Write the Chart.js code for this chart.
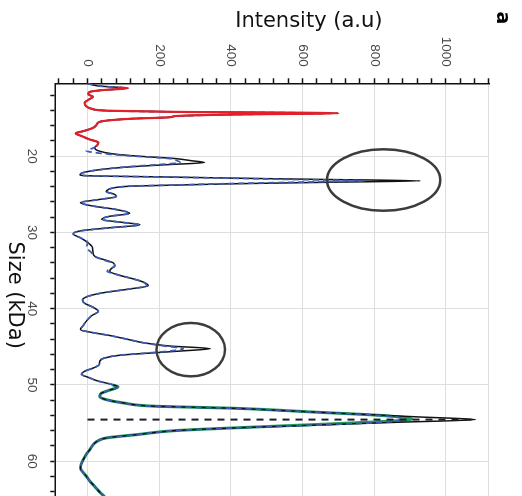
<!DOCTYPE html>
<html>
<head>
<meta charset="utf-8">
<script src="https://cdn.jsdelivr.net/npm/chart.js@4.4.1/dist/chart.umd.min.js"></script>
<style>
  html, body { margin: 0; padding: 0; background: #fff; }
  body { width: 522px; height: 496px; overflow: hidden; position: relative; }
  #wrap { position: absolute; left: 0; top: 0; width: 530px; height: 522px;
          transform-origin: 0 0; transform: translateX(522px) rotate(90deg); }
  canvas { display: block; }
</style>
</head>
<body>
<div id="wrap"><canvas id="c" width="530" height="522"></canvas></div>
<script>
// ---- data ----
const sizeKDa = [10.45,10.8,11.1,11.35,11.6,11.9,12.2,12.6,13.0,13.4,13.8,14.05,14.2,14.37,14.55,14.75,14.9,15.1,15.5,15.9,16.3,16.7,17.0,17.4,17.8,18.2,18.5,18.9,19.3,19.7,20.0,20.3,20.6,20.84,21.1,21.4,21.8,22.2,22.45,22.6,22.72,22.88,23.05,23.24,23.42,23.63,23.78,23.92,24.1,24.3,24.65,25.0,25.3,25.7,26.1,26.5,27.0,27.5,27.9,28.3,28.7,29.0,29.4,29.8,30.2,30.7,31.3,32.0,32.6,33.2,33.7,34.0,34.4,34.8,35.1,35.5,36.0,36.5,37.0,37.4,37.9,38.4,38.9,39.3,39.8,40.35,40.9,41.6,42.2,42.75,43.1,43.5,44.0,44.5,44.9,45.24,45.55,45.8,46.1,46.5,46.9,47.3,47.8,48.2,48.6,49.0,49.5,49.9,50.26,50.7,51.1,51.5,51.9,52.35,52.8,53.04,53.4,53.8,54.2,54.54,54.9,55.3,55.65,56.0,56.5,56.94,57.3,57.7,58.5,59.2,59.8,60.4,60.9,61.5,62.0,62.7,63.3,64.0,64.5,65.2,66.0];
const blackInt = [0,30,110,40,5,2,15,3,-8,-5,12,60,250,700,400,245,230,120,34,25,15,-10,-33,-15,5,30,28,20,30,70,140,240,290,326,230,120,30,-15,-21,20,200,400,648,928,683,397,260,130,80,62,52,75,80,30,-20,10,80,118,60,39,100,146,60,-20,-40,-20,0,14,15,22,55,72,76,65,62,80,120,155,169,120,45,0,-14,-8,15,30,12,-3,-12,-20,10,60,110,160,230,342,260,180,90,45,34,33,15,-8,-17,2,30,65,85,60,38,34,50,99,193,398,562,745,927,1082,860,614,398,240,140,53,30,18,6,-5,-12,-18,-20,-12,-3,8,20,33,44,58,72];
const blueInt  = [0,30,105,40,5,2,15,3,-8,-5,12,60,250,680,400,260,225,120,34,25,15,-10,-33,-15,5,28,25,18,-3,50,130,225,250,258,200,110,30,-15,-21,20,190,380,560,770,580,370,250,130,80,62,52,75,80,30,-20,10,80,118,60,39,100,146,60,-20,-40,-20,0,-3,10,22,50,70,76,60,55,80,120,155,165,120,45,0,-14,-8,15,30,12,-3,-12,-20,10,60,110,160,215,267,230,170,90,45,34,33,15,-8,-17,2,30,65,85,60,38,34,50,99,193,398,560,740,860,880,820,614,398,240,140,53,30,18,6,-5,-12,-18,-20,-12,-3,8,20,33,44,58,72];
const redSize  = [11.0,11.1,11.35,11.6,11.9,12.2,12.6,13.0,13.4,13.8,14.05,14.2,14.37,14.55,14.75,14.9,15.1,15.5,15.9,16.3,16.7,17.0,17.4,17.8,18.2,18.5,18.7];
const redInt   = [90,113,40,5,2,15,3,-8,-5,12,60,250,700,400,245,230,120,34,25,15,-10,-33,-15,5,30,28,24];
const greenSize = [50.0,50.26,50.7,51.1,51.5,51.9,52.35,52.8,53.04,53.6,54.0,54.5,54.85,55.2,55.65,56.0,56.5,56.94,57.3,57.7,58.5,59.2,59.8,60.4,60.9,61.5,62.0,62.7,63.3,64.0,64.5,65.2,66.0];
const greenInt  = [70,85,60,38,34,50,99,193,398,650,820,905,800,630,398,240,140,53,30,18,6,-5,-12,-18,-20,-12,-3,8,20,33,44,58,72];
const markerSize = [54.54, 54.54];
const markerInt  = [0, 1082];
// circled peaks: centre (size, intensity) and half-axes in data units
const ringSize    = [23.13, 45.37];
const ringInt     = [826, 288];
const ringRadSize = [4.03, 3.5];
const ringRadInt  = [158, 95.5];
// axis ticks
const sizeLabels = [20, 30, 40, 50, 60];
const intensityLabels = [0, 200, 400, 600, 800, 1000];

const pts = (xs, ys) => xs.map((x, i) => ({x: x, y: ys[i]}));
const T = 'rgba(0,0,0,0)';
const near = (a, b) => Math.abs(a - b) < 1e-6;

const ringPlugin = {
  id: 'rings',
  afterDatasetsDraw(chart) {
    const {ctx, scales} = chart;
    const xs = scales.x, ys = scales.y;
    ctx.save();
    ctx.strokeStyle = '#3c3c3c';
    ctx.lineWidth = 2.5;
    ringSize.forEach((s, i) => {
      const cx = xs.getPixelForValue(s), cy = ys.getPixelForValue(ringInt[i]);
      const rx = Math.abs(xs.getPixelForValue(s + ringRadSize[i]) - cx);
      const ry = Math.abs(ys.getPixelForValue(ringInt[i] + ringRadInt[i]) - cy);
      ctx.beginPath();
      ctx.ellipse(cx, cy, rx, ry, 0, 0, Math.PI * 2);
      ctx.stroke();
    });
    ctx.restore();
  },
  afterDraw(chart) {
    const ctx = chart.ctx;
    ctx.save();
    ctx.fillStyle = '#000';
    ctx.font = 'bold 19px "DejaVu Sans"';
    ctx.textAlign = 'center';
    ctx.textBaseline = 'middle';
    ctx.fillText('a', 18, 20);
    ctx.restore();
  }
};

new Chart(document.getElementById('c'), {
  type: 'line',
  data: {
    datasets: [
      { data: pts(markerSize, markerInt), borderColor: '#1c1c2c', borderWidth: 2, borderDash: [7, 6], pointRadius: 0, tension: 0 },
      { data: pts(redSize, redInt), borderColor: '#e3202a', borderWidth: 2.2, pointRadius: 0, cubicInterpolationMode: 'monotone' },
      { data: pts(sizeKDa, blueInt), borderColor: '#3f5cb5', borderWidth: 1.8, borderDash: [6, 4], pointRadius: 0, cubicInterpolationMode: 'monotone' },
      { data: pts(sizeKDa, blackInt), borderColor: '#111111', borderWidth: 1.5, pointRadius: 0, cubicInterpolationMode: 'monotone' },
      { data: pts(greenSize, greenInt), borderColor: '#1f9a62', borderWidth: 3, pointRadius: 0, cubicInterpolationMode: 'monotone' }
    ]
  },
  options: {
    responsive: false,
    animation: false,
    devicePixelRatio: 1,
    layout: { padding: { left: 0, top: 33, right: 23, bottom: 0 } },
    plugins: { legend: { display: false }, tooltip: { enabled: false } },
    scales: {
      x: {
        type: 'linear', position: 'bottom', min: 10.45, max: 66,
        afterFit: s => { s.height = 55.3; },
        ticks: {
          stepSize: 2, includeBounds: false, autoSkip: false, maxRotation: 0, minRotation: 0,
          padding: 10, color: '#4a4a4a',
          font: { family: '"Liberation Sans", Arial, sans-serif', size: 13.5 },
          callback: v => sizeLabels.some(l => near(l, v)) ? String(Math.round(v)) : ''
        },
        grid: {
          color: c => (c.tick && sizeLabels.some(l => near(l, c.tick.value))) ? '#dedede' : T,
          lineWidth: 1, drawTicks: true, tickLength: 5, tickColor: '#111', tickWidth: 1.5
        },
        border: { color: '#111', width: 1.5 },
        title: { display: true, text: 'Size (kDa)', color: '#111',
                 font: { family: '"DejaVu Sans", sans-serif', size: 21 }, padding: { top: 0, bottom: 1.4 } }
      },
      y: {
        type: 'linear', position: 'left', min: -90, max: 1120,
        afterFit: s => { s.width = 83.3; },
        ticks: {
          stepSize: 40, includeBounds: false, autoSkip: false,
          padding: 11.6, color: '#4a4a4a',
          font: { family: '"Liberation Sans", Arial, sans-serif', size: 13.5 },
          callback: v => intensityLabels.some(l => near(l, v)) ? String(v) : ''
        },
        grid: {
          color: c => (c.tick && (intensityLabels.some(l => near(l, c.tick.value)) || near(c.tick.value, 1120))) ? '#dedede' : T,
          lineWidth: 1, drawTicks: true, tickLength: 5, tickColor: '#111', tickWidth: 1.5
        },
        border: { color: '#111', width: 1.5 },
        title: { display: true, text: '           Intensity (a.u)', color: '#111',
                 font: { family: '"DejaVu Sans", sans-serif', size: 21 }, padding: { top: 8.5, bottom: 0 } }
      }
    }
  },
  plugins: [ringPlugin]
});
</script>
</body>
</html>
